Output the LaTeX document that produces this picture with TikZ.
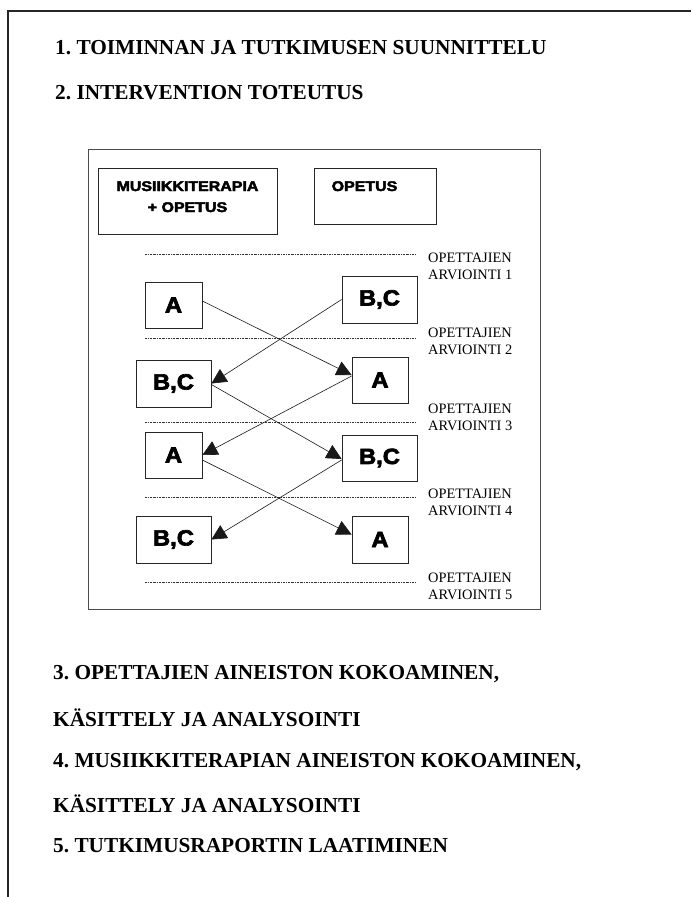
\documentclass[tikz,border=0pt]{standalone}
\usepackage{fontspec}
\usepackage{graphicx}
\setmainfont{Liberation Serif}
\newfontfamily\heavy{Liberation Sans Bold}[FakeBold=3]
\usetikzlibrary{arrows.meta}
\newcommand\bxtext[3]{\scalebox{#2}[1]{\heavy\fontsize{#1}{#1}\selectfont #3}}
\frenchspacing
\tikzset{
  head/.style={font=\fontsize{21.3}{24}\selectfont\bfseries, anchor=base west, inner sep=0pt},
  lab/.style={font=\fontsize{14.4}{16.5}\selectfont, anchor=base west, inner sep=0pt, align=left},
  box/.style={draw=black!85, line width=0.8pt, inner sep=0pt},
  abox/.style={box, minimum width=57pt, minimum height=46pt},
  bcbox/.style={box, minimum width=75pt, minimum height=47pt},
  sephead/.style={anchor=base, inner sep=0pt},
  dotline/.style={black!80, line width=0.6pt, dash pattern=on 2pt off 1pt on 0.6pt off 1pt},
  arr/.style={-{Triangle[length=15pt,width=15pt]}, line width=0.6pt, black!90}
}
\begin{document}
\begin{tikzpicture}[x=1pt,y=-1pt]
\useasboundingbox (0,0) rectangle (691,897);
\fill[white] (0,0) rectangle (691,897);
% outer frame
\draw[black!85, line width=2pt] (7.5,897) -- (7.5,10.5) -- (691,10.5);
% headings
\node[head] (h1) at (55,54) {1. TOIMINNAN JA TUTKIMUSEN SUUNNITTELU};
\node[head] (h2) at (55,99) {2. INTERVENTION TOTEUTUS};
\node[head] (h3) at (53,679) {3. OPETTAJIEN AINEISTON KOKOAMINEN,};
\node[head] (h3b) at (53,726) {KÄSITTELY JA ANALYSOINTI};
\node[head] (h4) at (53,767) {4. MUSIIKKITERAPIAN AINEISTON KOKOAMINEN,};
\node[head] (h4b) at (53,812) {KÄSITTELY JA ANALYSOINTI};
\node[head] (h5) at (53,852) {5. TUTKIMUSRAPORTIN LAATIMINEN};
% inner frame
\draw[black!70, line width=0.8pt] (88.5,149) rectangle (540,609);
% group boxes
\node[box, minimum width=179pt, minimum height=66pt] (MT) at (187.5,201) {};
\node[sephead] (MTa) at (187.5,191) {\bxtext{14}{1.14}{MUSIIKKITERAPIA}};
\node[sephead] (MTb) at (187.5,212) {\bxtext{14}{1.14}{+ OPETUS}};
\node[box, minimum width=122pt, minimum height=56pt] (OP) at (375,196) {};
\node[sephead] (OPa) at (364.5,191) {\bxtext{14}{1.14}{OPETUS}};
% separators
\foreach \yy in {254,338,422,497,582} \draw[dotline] (145,\yy) -- (416,\yy);
% labels
\node[lab] (L1) at (428,279) {OPETTAJIEN\\ARVIOINTI 1};
\node[lab] (L2) at (428,354) {OPETTAJIEN\\ARVIOINTI 2};
\node[lab] (L3) at (428,430) {OPETTAJIEN\\ARVIOINTI 3};
\node[lab] (L4) at (428,515) {OPETTAJIEN\\ARVIOINTI 4};
\node[lab] (L5) at (428,599) {OPETTAJIEN\\ARVIOINTI 5};
% boxes
\node[abox] (A1) at (173.5,305) {\bxtext{22}{1.08}{A}};
\node[bcbox] (BC1) at (379.5,299.5) {\bxtext{22}{1.08}{B,C}};
\node[bcbox] (BC2) at (173.5,383.5) {\bxtext{22}{1.08}{B,C}};
\node[abox, minimum width=56pt] (A2) at (380,380) {\bxtext{22}{1.08}{A}};
\node[abox] (A3) at (173.5,455) {\bxtext{22}{1.08}{A}};
\node[bcbox, minimum height=46pt] (BC3) at (379.5,458) {\bxtext{22}{1.08}{B,C}};
\node[bcbox] (BC4) at (173.5,539.5) {\bxtext{22}{1.08}{B,C}};
\node[abox, minimum width=56pt, minimum height=47pt] (A4) at (380,539.5) {\bxtext{22}{1.08}{A}};
% arrows
\draw[arr] ([yshift=4pt]A1.east) -- ([yshift=5pt]A2.west);
\draw[arr] (BC1.west) -- (BC2.east);
\draw[arr] ([yshift=4pt]A2.west) -- (A3.east);
\draw[arr] ([yshift=-1pt]BC2.east) -- ([yshift=-1pt]BC3.west);
\draw[arr] ([yshift=-2pt]BC3.west) -- (BC4.east);
\draw[arr] ([yshift=-5pt]A3.east) -- ([yshift=5pt]A4.west);
\end{tikzpicture}
\end{document}
